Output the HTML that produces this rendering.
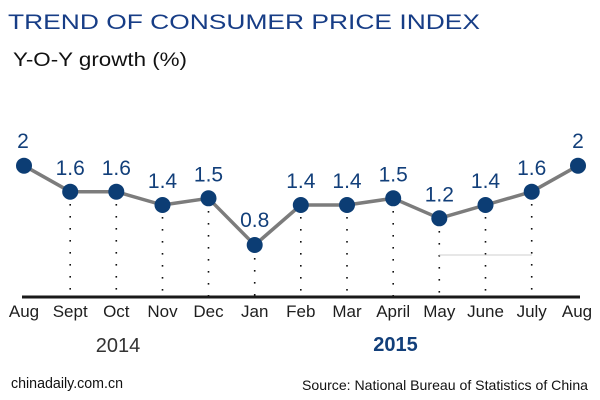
<!DOCTYPE html>
<html><head><meta charset="utf-8"><style>
html,body{margin:0;padding:0;background:#fff;}
svg{display:block;}
text{font-family:"Liberation Sans",Arial,sans-serif;}
</style></head><body>
<svg width="600" height="400" viewBox="0 0 600 400" xmlns="http://www.w3.org/2000/svg">
<rect width="600" height="400" fill="#fff"/>
<text x="8" y="29" font-size="21" fill="#173d86" textLength="472" lengthAdjust="spacingAndGlyphs">TREND OF CONSUMER PRICE INDEX</text>
<text x="13" y="66" font-size="19" fill="#111" textLength="174" lengthAdjust="spacingAndGlyphs">Y-O-Y growth (%)</text>

<!-- dotted verticals -->
<g stroke="#111" stroke-width="1.6" stroke-dasharray="1.6 10.4" fill="none">
<line x1="70.2" y1="204" x2="70.2" y2="296"/>
<line x1="116.3" y1="204" x2="116.3" y2="296"/>
<line x1="162.5" y1="217" x2="162.5" y2="296"/>
<line x1="208.5" y1="211" x2="208.5" y2="296"/>
<line x1="254.7" y1="258" x2="254.7" y2="296"/>
<line x1="300.8" y1="217" x2="300.8" y2="296"/>
<line x1="347" y1="217" x2="347" y2="296"/>
<line x1="393.2" y1="211" x2="393.2" y2="296"/>
<line x1="439.3" y1="231" x2="439.3" y2="296"/>
<line x1="485.5" y1="217" x2="485.5" y2="296"/>
<line x1="531.7" y1="204" x2="531.7" y2="296"/>
</g>
<line x1="439" y1="255" x2="532" y2="255" stroke="#cfcfcf" stroke-width="1"/>

<!-- axis -->
<line x1="22" y1="297" x2="580" y2="297" stroke="#1a1a1a" stroke-width="3"/>

<!-- series line -->
<polyline fill="none" stroke="#7c7c7c" stroke-width="3.5" stroke-linejoin="round"
points="24,165.7 70.2,191.7 116.3,191.7 162.5,205 208.5,198.3 254.7,245 300.8,205 347,205 393.2,198.3 439.3,218.3 485.5,205 531.7,191.7 578,165.7"/>

<g fill="#0c3d74">
<circle cx="24" cy="165.7" r="8"/>
<circle cx="70.2" cy="191.7" r="8"/>
<circle cx="116.3" cy="191.7" r="8"/>
<circle cx="162.5" cy="205" r="8"/>
<circle cx="208.5" cy="198.3" r="8"/>
<circle cx="254.7" cy="245" r="8"/>
<circle cx="300.8" cy="205" r="8"/>
<circle cx="347" cy="205" r="8"/>
<circle cx="393.2" cy="198.3" r="8"/>
<circle cx="439.3" cy="218.3" r="8"/>
<circle cx="485.5" cy="205" r="8"/>
<circle cx="531.7" cy="191.7" r="8"/>
<circle cx="578" cy="165.7" r="8"/>
</g>

<g fill="#123f7a" font-size="21" text-anchor="middle">
<text x="23" y="148">2</text>
<text x="70.2" y="175">1.6</text>
<text x="116.3" y="175">1.6</text>
<text x="162.5" y="188">1.4</text>
<text x="208.5" y="181.5">1.5</text>
<text x="254.7" y="227">0.8</text>
<text x="300.8" y="188">1.4</text>
<text x="347" y="188">1.4</text>
<text x="393.2" y="181.5">1.5</text>
<text x="439.3" y="201.5">1.2</text>
<text x="485.5" y="188">1.4</text>
<text x="531.7" y="175">1.6</text>
<text x="578" y="148">2</text>
</g>

<g fill="#1e1e1e" font-size="17" text-anchor="middle">
<text x="24" y="317">Aug</text>
<text x="70.2" y="317">Sept</text>
<text x="116.3" y="317">Oct</text>
<text x="162.5" y="317">Nov</text>
<text x="208.5" y="317">Dec</text>
<text x="254.7" y="317">Jan</text>
<text x="300.8" y="317">Feb</text>
<text x="347" y="317">Mar</text>
<text x="393.2" y="317">April</text>
<text x="439.3" y="317">May</text>
<text x="485.5" y="317">June</text>
<text x="531.7" y="317">July</text>
<text x="577" y="317">Aug</text>
</g>

<text x="118" y="352" font-size="20" fill="#333" text-anchor="middle">2014</text>
<text x="395.5" y="351" font-size="20" font-weight="bold" fill="#123f7a" text-anchor="middle">2015</text>

<text x="11" y="388" font-size="14.5" fill="#111" textLength="112" lengthAdjust="spacingAndGlyphs">chinadaily.com.cn</text>
<text x="302" y="390" font-size="14" fill="#111" textLength="286" lengthAdjust="spacingAndGlyphs">Source: National Bureau of Statistics of China</text>
</svg>
</body></html>
